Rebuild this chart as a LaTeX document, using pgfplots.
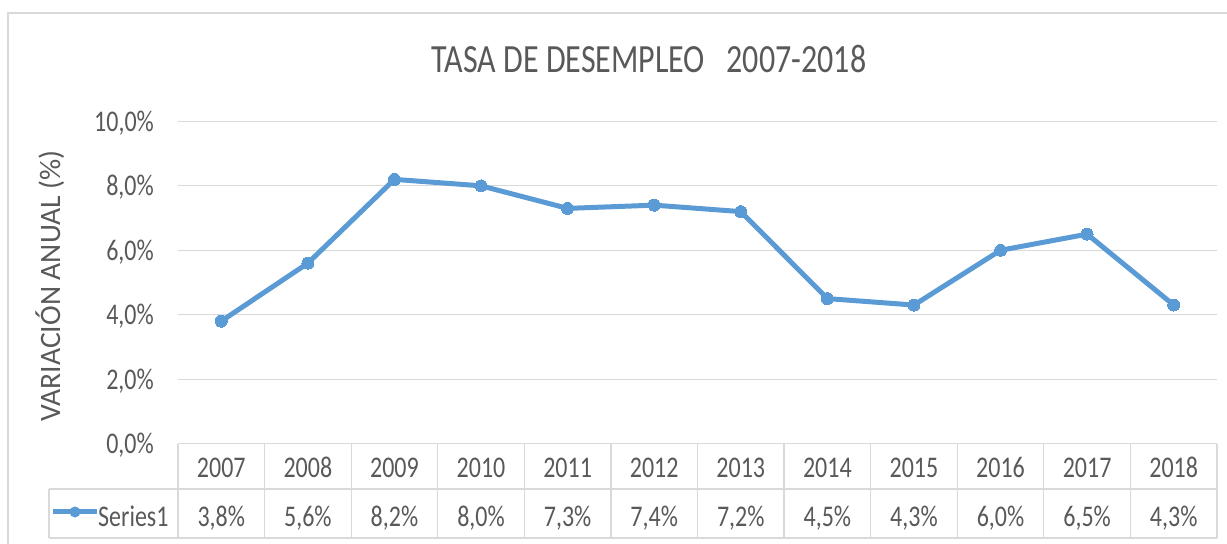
\documentclass[border=0pt]{standalone}
\usepackage{pgfplots}
\pgfplotsset{compat=1.18}
\usepackage{fontspec}
\setmainfont{Carlito}
\usepackage{graphicx}
\definecolor{txt}{HTML}{595959}
\definecolor{gridc}{HTML}{D9D9D9}
\definecolor{ser}{HTML}{5B9BD5}
\newcommand{\sq}[1]{\scalebox{0.8}[1]{#1}}
\begin{document}
\begin{tikzpicture}[x=1bp,y=1bp]
\useasboundingbox (0,0) rectangle (1227,544);
\draw[gridc, line width=1.3bp] (8,-20) -- (8,531) -- (1250,531);
\begin{axis}[at={(178bp,100.4bp)}, anchor=south west, scale only axis,
  width=1039bp, height=322.2bp,
  xmin=-0.5, xmax=11.5, ymin=0, ymax=10,
  axis line style={draw=none}, xtick=\empty,
  ytick={0,2,4,6,8,10},
  yticklabels={\sq{0,0\%},\sq{2,0\%},\sq{4,0\%},\sq{6,0\%},\sq{8,0\%},\sq{10,0\%}},
  ymajorgrids, major grid style={gridc, line width=1.3bp},
  major tick length=0pt,
  yticklabel style={font=\fontsize{30bp}{36bp}\selectfont, text=txt, anchor=base east, inner sep=0pt, xshift=-24bp, yshift=-10bp},
  clip=false]
\addplot[ser, line width=5bp, line join=round, mark=*, mark size=6bp, mark options={fill=ser, draw=ser, line width=0pt}]
  coordinates {(0,3.8) (1,5.6) (2,8.2) (3,8.0) (4,7.3) (5,7.4) (6,7.2) (7,4.5) (8,4.3) (9,6.0) (10,6.5) (11,4.3)};
\end{axis}
% data table
\draw[gridc, line width=1.3bp] (178,100.4) -- (1217,100.4);
\draw[gridc, line width=1.3bp] (49,55) -- (1217,55);
\draw[gridc, line width=1.3bp] (49,6) -- (1217,6);
\draw[gridc, line width=1.3bp] (49,55) -- (49,6);
\foreach \k in {0,...,12} {
  \draw[gridc, line width=1.3bp] ({178+86.58*\k},100.4) -- ({178+86.58*\k},6);
}
\foreach \i/\yr/\v in {0/2007/{3,8}, 1/2008/{5,6}, 2/2009/{8,2}, 3/2010/{8,0}, 4/2011/{7,3}, 5/2012/{7,4}, 6/2013/{7,2}, 7/2014/{4,5}, 8/2015/{4,3}, 9/2016/{6,0}, 10/2017/{6,5}, 11/2018/{4,3}} {
  \node[anchor=base, inner sep=0pt, text=txt, font=\fontsize{30bp}{36bp}\selectfont] at ({178+86.58*(\i+0.5)},66) {\sq{\yr}};
  \node[anchor=base, inner sep=0pt, text=txt, font=\fontsize{30bp}{36bp}\selectfont] at ({178+86.58*(\i+0.5)},17) {\sq{\v\%}};
}
% legend key
\draw[ser, line width=5bp] (53,32) -- (97,32);
\fill[ser] (75,32) circle (5.5bp);
\node[anchor=base west, inner sep=0pt, text=txt, font=\fontsize{30bp}{36bp}\selectfont] at (98,17) {\sq{Series1}};
% title
\node[anchor=base, inner sep=0pt, text=txt, font=\fontsize{40bp}{48bp}\selectfont] at (649,471) {\sq{TASA DE DESEMPLEO\ \ \ 2007-2018}};
% y label
\node[anchor=base, rotate=90, inner sep=0pt, text=txt, font=\fontsize{29.6bp}{36bp}\selectfont] at (60,258) {VARIACIÓN ANUAL (\%)};
\end{tikzpicture}
\end{document}
